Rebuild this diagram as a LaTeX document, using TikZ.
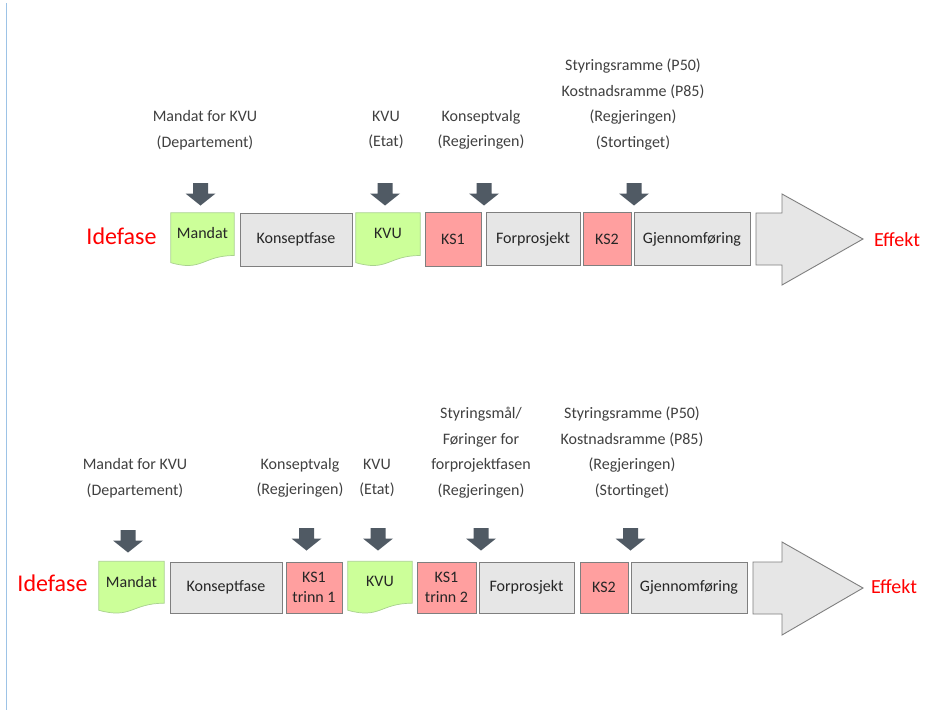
\documentclass[tikz,border=0pt]{standalone}
\usepackage{fontspec}
\setmainfont{Carlito}
\usetikzlibrary{calc}
\definecolor{docgreen}{HTML}{CCFF99}
\definecolor{docedge}{HTML}{A9D18E}
\definecolor{ksred}{HTML}{FF9F9F}
\definecolor{boxgray}{HTML}{E6E6E6}
\definecolor{edgegray}{HTML}{7F7F7F}
\definecolor{arrdark}{HTML}{505A64}
\definecolor{labeltext}{HTML}{404040}
\definecolor{railblue}{HTML}{9DC3E6}
\definecolor{phasered}{HTML}{FF0000}

% document-shaped box: flat top, wavy bottom
\newcommand\docshape[1]{%
  \path[docfill] (#1.north west) -- (#1.north east)
    -- ($(#1.north east)!0.80!(#1.south east)$)
    .. controls ($(#1.north)!0.80!(#1.south)$) and ($(#1.north)!1.108!(#1.south)$)
    .. ($(#1.north west)!0.934!(#1.south west)$) -- cycle;}

\begin{document}
\begin{tikzpicture}[x=1pt,y=-1pt,
  txt/.style={font=\fontsize{16}{25.5}\selectfont, text=labeltext, align=center, inner sep=0},
  phase/.style={draw=edgegray, line width=0.9pt, fill=boxgray, inner sep=0,
    font=\fontsize{16}{20}\selectfont, text=black!85, align=center},
  ks/.style={phase, fill=ksred},
  docnode/.style={inner sep=0, font=\fontsize{16}{20}\selectfont, text=black!85},
  docfill/.style={fill=docgreen, draw=docedge, line width=0.7pt},
  bigarrow/.style={fill=boxgray, draw=edgegray, line width=0.9pt, line join=miter},
  endtxt/.style={text=phasered, inner sep=0},
  darr/.pic={\fill[arrdark] (-7.5,0) -- (7.5,0) -- (7.5,10.5) -- (15,10.5) -- (0,22.5)
     -- (-15,10.5) -- (-7.5,10.5) -- cycle;}
]
\useasboundingbox (0,0) rectangle (940,723);
\fill[white] (0,0) rectangle (940,723);

% margin rule on the left
\draw[railblue, line width=1pt] (6,3) -- (6,710);

% ---------------- upper process ----------------
\node[txt] (lA1) at (205,130) {Mandat for KVU\\(Departement)};
\node[txt] (lB1) at (386,130) {KVU\\(Etat)};
\node[txt] (lC1) at (481,130) {Konseptvalg\\(Regjeringen)};
\node[txt] (lD1) at (633,104.5) {Styringsramme (P50)\\Kostnadsramme (P85)\\(Regjeringen)\\(Stortinget)};

\path (200.5,183) pic {darr};
\path (385,183) pic {darr};
\path (484,183) pic {darr};
\path (634,183) pic {darr};

\node[docnode, minimum width=63, minimum height=53] (mandat1) at (202.5,239.5) {};
\docshape{mandat1}
\node[docnode] at (mandat1) {\raisebox{6pt}[\height][\depth]{Mandat}};
\node[phase, minimum width=112, minimum height=53] (konsept1) at (296,239.5) {Konseptfase};
\node[docnode, minimum width=64, minimum height=53] (kvu1) at (388,239.5) {};
\docshape{kvu1}
\node[docnode] at (kvu1) {\raisebox{6pt}[\height][\depth]{KVU}};
\node[ks, minimum width=56, minimum height=54] (ksa1) at (453,239) {KS1};
\node[phase, minimum width=94, minimum height=53] (forpro1) at (533,239) {Forprosjekt};
\node[ks, minimum width=48, minimum height=53] (ksb1) at (607,239) {KS2};
\node[phase, minimum width=116, minimum height=53] (gjenn1) at (692,239) {Gjennomføring};

\draw[bigarrow] (756,213) -- (782,213) -- (782,194) -- (863,239) -- (782,285)
  -- (782,265) -- (756,265) -- cycle;

\node[endtxt, font=\fontsize{24}{28}\selectfont] (ide1) at (121.5,236) {Idefase};
\node[endtxt, font=\fontsize{20}{24}\selectfont] (eff1) at (897,240) {Effekt};

% ---------------- lower process ----------------
\node[txt] (lA2) at (135,478) {Mandat for KVU\\(Departement)};
\node[txt] (lB2) at (300,478) {Konseptvalg\\(Regjeringen)};
\node[txt] (lC2) at (377,478) {KVU\\(Etat)};
\node[txt] (lD2) at (481,452.5) {Styringsmål/\\Føringer for\\forprojektfasen\\(Regjeringen)};
\node[txt] (lE2) at (632,452.5) {Styringsramme (P50)\\Kostnadsramme (P85)\\(Regjeringen)\\(Stortinget)};

\path (128,530) pic {darr};
\path (306.5,528) pic {darr};
\path (378,528) pic {darr};
\path (481,528) pic {darr};
\path (630.5,528) pic {darr};

\node[docnode, minimum width=65, minimum height=52] (mandat2) at (131.5,587.5) {};
\docshape{mandat2}
\node[docnode] at (mandat2) {\raisebox{6pt}[\height][\depth]{Mandat}};
\node[phase, minimum width=112, minimum height=51] (konsept2) at (226,587.5) {Konseptfase};
\node[ks, minimum width=56, minimum height=51] (kst1) at (314,587.5) {KS1\\trinn 1};
\node[docnode, minimum width=64, minimum height=52] (kvu2) at (380,587.5) {};
\docshape{kvu2}
\node[docnode] at (kvu2) {\raisebox{6pt}[\height][\depth]{KVU}};
\node[ks, minimum width=59, minimum height=51] (kst2) at (446.5,587.5) {KS1\\trinn 2};
\node[phase, minimum width=95, minimum height=51] (forpro2) at (526.5,587.5) {Forprosjekt};
\node[ks, minimum width=48, minimum height=51] (ksb2) at (604,587.5) {KS2};
\node[phase, minimum width=116, minimum height=51] (gjenn2) at (689,587.5) {Gjennomføring};

\draw[bigarrow] (753,562) -- (782,562) -- (782,542) -- (863,588) -- (782,635)
  -- (782,614) -- (753,614) -- cycle;

\node[endtxt, font=\fontsize{24}{28}\selectfont] (ide2) at (52.5,583) {Idefase};
\node[endtxt, font=\fontsize{20}{24}\selectfont] (eff2) at (894,587) {Effekt};
\end{tikzpicture}
\end{document}
